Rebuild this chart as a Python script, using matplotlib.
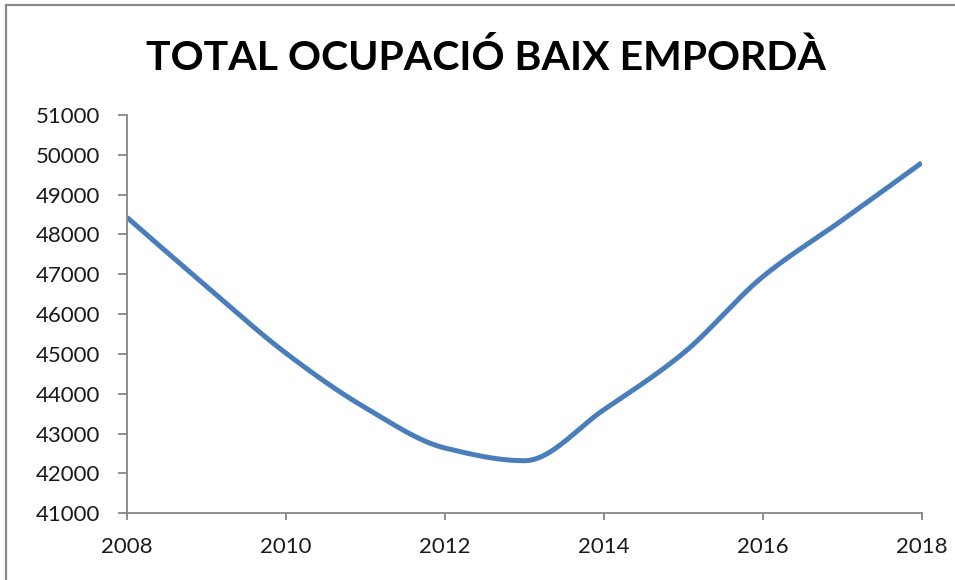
import numpy as np
import matplotlib
matplotlib.use("Agg")
import matplotlib.pyplot as plt
from matplotlib.lines import Line2D

years = [2008, 2009, 2010, 2011, 2012, 2013, 2014, 2015, 2016, 2017, 2018]
ocupacio = [48430, 46700, 45020, 43650, 42640, 42320, 43600, 45020, 46940, 48360, 49800]
title = "TOTAL OCUPACIÓ BAIX EMPORDÀ"
xticks = [2008, 2010, 2012, 2014, 2016, 2018]
yticks = list(range(41000, 51001, 1000))


def smooth_curve(xs, ys, n=80):
    # shape-preserving cubic Hermite (Fritsch-Carlson) through the data points
    x = np.asarray(xs, float)
    y = np.asarray(ys, float)
    h = np.diff(x)
    d = np.diff(y) / h
    m = np.zeros_like(y)
    for i in range(1, len(y) - 1):
        if d[i - 1] * d[i] > 0:
            w1 = 2 * h[i] + h[i - 1]
            w2 = h[i] + 2 * h[i - 1]
            m[i] = (w1 + w2) / (w1 / d[i - 1] + w2 / d[i])
    m[0] = ((2 * h[0] + h[1]) * d[0] - h[0] * d[1]) / (h[0] + h[1])
    m[-1] = ((2 * h[-1] + h[-2]) * d[-1] - h[-1] * d[-2]) / (h[-1] + h[-2])
    ox, oy = [], []
    t = np.linspace(0, 1, n)
    for i in range(len(x) - 1):
        h00 = 2 * t ** 3 - 3 * t ** 2 + 1
        h10 = t ** 3 - 2 * t ** 2 + t
        h01 = -2 * t ** 3 + 3 * t ** 2
        h11 = t ** 3 - t ** 2
        ox.extend(x[i] + t * h[i])
        oy.extend(h00 * y[i] + h10 * h[i] * m[i] + h01 * y[i + 1] + h11 * h[i] * m[i + 1])
    return np.array(ox), np.array(oy)


fig = plt.figure(figsize=(9.55, 5.8), dpi=100)
ax = fig.add_axes([127 / 955, 1 - 513.3 / 580, (921.7 - 127) / 955, (513.3 - 115) / 580])

sx, sy = smooth_curve(years, ocupacio)
ax.plot(sx, sy, color="#4a7ebb", lw=3.6, solid_capstyle="butt")

ax.set_xlim(2008, 2018)
ax.set_ylim(41000, 51000)
ax.set_xticks(xticks)
ax.set_yticks(yticks)
gray = "#868686"
for s in ["top", "right"]:
    ax.spines[s].set_visible(False)
for s in ["left", "bottom"]:
    ax.spines[s].set_color(gray)
    ax.spines[s].set_linewidth(1.3)
ax.tick_params(axis="both", direction="out", width=1.3, color=gray,
               labelsize=16, labelcolor="#1a1a1a")
ax.tick_params(axis="x", length=5, pad=12)
ax.tick_params(axis="y", length=6.5, pad=13)
for lab in ax.get_xticklabels() + ax.get_yticklabels():
    lab.set_fontfamily("Lato")

fig.text(0.509, 1 - 58 / 580, title, ha="center", va="center", fontsize=29.5,
         fontweight="bold", family="Lato", color="black")

fig.add_artist(Line2D([6 / 955, 6 / 955], [0, 1 - 5 / 580], color="#898989", lw=1.6,
                      transform=fig.transFigure))
fig.add_artist(Line2D([6 / 955, 1], [1 - 5 / 580, 1 - 5 / 580], color="#898989", lw=1.6,
                      transform=fig.transFigure))

fig.savefig("out.png", dpi=100)
